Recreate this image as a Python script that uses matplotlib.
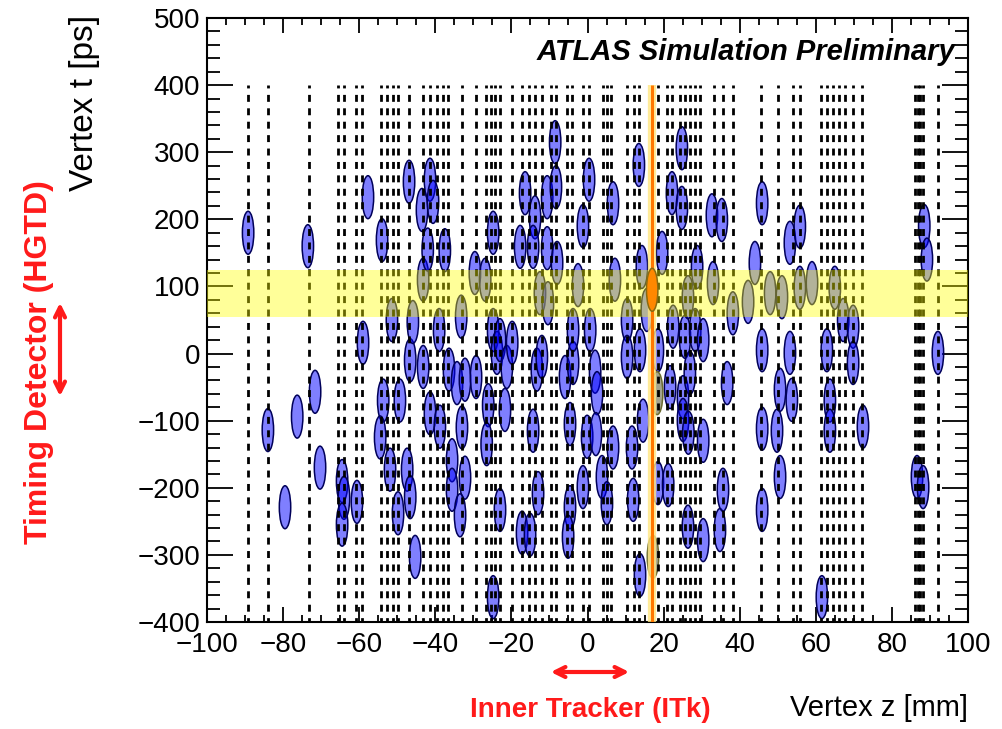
import matplotlib
matplotlib.use('Agg')
import matplotlib.pyplot as plt
from matplotlib.patches import Ellipse, FancyArrowPatch
from matplotlib.ticker import MultipleLocator

# truth vertex z positions (dashed lines)
truth_z = [-89.2, -84.0, -73.2, -65.6, -64.0, -60.8, -59.3, -54.3, -52.6, -51.1,
           -49.8, -46.9, -43.2, -41.5, -39.6, -38.0, -36.7, -33.0, -29.3, -26.6,
           -25.4, -24.2, -23.0, -19.8, -17.2, -15.4, -13.7, -12.0, -9.6, -8.4,
           -5.3, -4.2, -1.1, 0.3, 4.1, 5.1, 6.2, 10.4, 12.1, 13.5,
           18.5, 20.9, 22.2, 24.3, 25.6, 26.9, 28.2, 29.5, 33.2, 35.5,
           38.2, 45.6, 50.1, 53.9, 55.8, 61.3, 63.0, 64.6, 66.0, 67.7,
           69.8, 72.1, 86.1, 86.8, 87.5, 88.2, 92.1]

# reconstructed vertices (z [mm], t [ps])
left_z = [-89.2, -84.0, -73.5, -76.3, -71.6, -70.3, -79.5, -64.5, -64.0, -64.5,
          -60.6, -59.0, -57.7, -54.0, -53.7, -54.5, -51.4, -51.9, -49.8, -49.3,
          -46.9, -47.4, -46.6, -45.3, -46.6, -45.9, -43.5, -41.4, -40.6, -43.2,
          -42.0, -43.2, -41.4, -38.8, -39.0, -37.5, -36.4, -35.6, -35.6, -34.3,
          -33.2, -32.2, -33.0, -32.2, -33.5]
left_t = [180, -114, 160, -94, -57, -170, -229, -190, -215, -255,
          -221, 16, 233, 169, -70, -125, 50, -173, -238, -70,
          256, -173, -214, -303, -10, 47, 214, 259, 226, 110,
          155, -20, -89, -109, 35, 154, -24, -159, -203, -44,
          55, -39, -110, -185, -241]

mid_z = [-29.6, -29.3, -26.9, -24.8, -24.8, -23.8, -23.0, -26.1, -26.5, -23.0,
         -24.8, -21.7, -21.2, -19.8, -17.7, -16.4, -13.8, -14.3, -10.6, -10.6,
         -8.5, -8.3, -8.0, -12.5, -10.4, -13.3, -12.0, -14.3, -13.0, -17.2,
         -15.1, -5.9, -3.8, -3.8, -2.5, -4.6, -4.6, -5.1, -1.2, 0.4,
         0.7, 2.0, -0.1, -1.2, 2.5, 2.2, 3.8, 5.1, 6.7, 7.2,
         6.7]
mid_t = [120, -35, 110, 180, 35, 1, 20, -77, -135, -233,
         -363, -84, -20, 16, 159, 239, 203, 159, 233, 157,
         315, 248, 135, 90, 75, -24, -5, -115, -208, -267,
         -270, -35, -14, 35, 102, -105, -229, -273, 190, 259,
         35, -27, -124, -199, -59, -120, -184, -223, 224, 110,
         -140]

right_z = [10.4, 10.4, 11.7, 12.0, 13.5, 14.3, 13.8, 14.6, 13.8, 15.6,
           18.5, 18.5, 19.6, 21.2, 21.7, 22.2, 22.5, 24.8, 24.8, 25.6,
           25.1, 25.1, 26.9, 26.5, 26.4, 28.8, 28.3, 30.4, 30.4, 26.4,
           30.4, 32.7, 35.3, 33.0, 34.8, 35.6, 36.7, 38.2, 42.2, 44.0,
           45.9, 45.9, 45.9, 45.9, 48.0, 49.8, 50.6, 50.6, 51.1, 53.2,
           53.2, 53.7, 55.8, 55.8, 59.0, 61.6, 62.9, 63.7, 63.7, 65.0,
           67.2, 69.8, 69.8, 72.4, 86.6, 88.2, 88.5, 89.2, 92.1]
right_t = [50, -5, -140, -218, 281, 129, 5, -100, -330, 65,
           5, -193, 150, -196, -50, 239, 40, 306, 217, 25,
           -65, -99, -29, -118, 84, 129, 35, 20, -130, -258,
           -278, 206, 199, 105, -263, -203, -44, 60, 77, 135,
           224, 5, -112, -233, 90, -115, -54, -184, 84, 165,
           1, -69, 189, 98, 105, -363, 5, -70, -115, 98,
           50, 40, -14, -109, -184, -199, 190, 140, 1]

# hard-scatter vertex and the two vertices shown in grey
hs_z, hs_t = 17.0, 95
grey_z = [17.2, 18.3]
grey_t = [-303, -59]

hs_truth = 17.0
band_lo, band_hi = 55, 125
sigma_z, sigma_t = 3.0, 64   # ellipse full width / height

red = '#ff1a1a'

plt.rcParams['font.family'] = ['Liberation Sans', 'DejaVu Sans']
plt.rcParams['lines.scale_dashes'] = False

fig = plt.figure(figsize=(10.03, 7.29), dpi=100)
ax = fig.add_axes([0.2064, 0.1468, 0.7587, 0.8285])

for z, t in zip(left_z + mid_z + right_z, left_t + mid_t + right_t):
    ax.add_patch(Ellipse((z, t), sigma_z, sigma_t, fc=(0, 0, 1, 0.5),
                         ec=(0, 0, 0.35), lw=1.1, zorder=2))
for z, t in zip(grey_z, grey_t):
    ax.add_patch(Ellipse((z, t), sigma_z, sigma_t, fc='#a3a38f',
                         ec='#6b6b30', lw=1.1, zorder=2))

ax.vlines(truth_z, 400, -400, colors='black', linestyles=[(2.9, (5.0, 4.66))],
          lw=2.0, zorder=3)

ax.axhspan(band_lo, band_hi, color='yellow', alpha=0.4, lw=0, zorder=4)

ax.plot([hs_truth, hs_truth], [-400, 400], color='#ffe680', lw=6, alpha=0.8,
        solid_capstyle='butt', zorder=5)
ax.plot([hs_truth, hs_truth], [-400, 400], color='#ff7700', lw=2.2,
        solid_capstyle='butt', zorder=6)
ax.add_patch(Ellipse((hs_z, hs_t), sigma_z, sigma_t, fc='#ff8800',
                     ec='#8a6a10', lw=1.1, zorder=7))

ax.set_xlim(-100, 100)
ax.set_ylim(-400, 500)
ax.xaxis.set_major_locator(MultipleLocator(20))
ax.xaxis.set_minor_locator(MultipleLocator(5))
ax.yaxis.set_major_locator(MultipleLocator(100))
ax.yaxis.set_minor_locator(MultipleLocator(20))
ax.tick_params(which='both', direction='in', top=True, right=True, width=1.3,
               labelsize=20)
ax.tick_params(axis='x', which='major', length=10.5, pad=7)
ax.tick_params(axis='x', which='minor', length=5)
ax.tick_params(axis='y', which='major', length=19, pad=5)
ax.tick_params(axis='y', which='minor', length=9.5)
for s in ax.spines.values():
    s.set_linewidth(1.5)

fig.text(955 / 1003, 1 - 52 / 729, 'ATLAS Simulation Preliminary', ha='right',
         va='center', fontsize=21, fontweight='bold', fontstyle='italic')
fig.text(84 / 1003, 1 - 15 / 729, 'Vertex t [ps]', rotation=90, ha='center',
         va='top', fontsize=24)
fig.text(968 / 1003, 1 - 708 / 729, 'Vertex z [mm]', ha='right', va='center',
         fontsize=21)
fig.text(39 / 1003, 1 - 362 / 729, 'Timing Detector (HGTD)', rotation=90,
         ha='center', va='center', color=red, fontsize=23, fontweight='bold')
fig.text(590 / 1003, 1 - 710 / 729, 'Inner Tracker (ITk)', ha='center',
         va='center', color=red, fontsize=20, fontweight='bold')

fig.add_artist(FancyArrowPatch((548 / 1003, 1 - 672 / 729), (632 / 1003, 1 - 672 / 729),
                               transform=fig.transFigure, arrowstyle='<->',
                               mutation_scale=18, lw=3, color=red))
fig.add_artist(FancyArrowPatch((60 / 1003, 1 - 300 / 729), (60 / 1003, 1 - 399 / 729),
                               transform=fig.transFigure, arrowstyle='<->',
                               mutation_scale=18, lw=3, color=red))

fig.savefig('out.png', dpi=100)
